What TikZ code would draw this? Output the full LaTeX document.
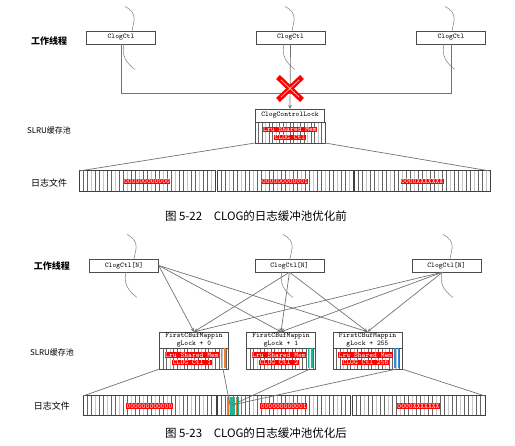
\documentclass[tikz,border=0pt]{standalone}
\usepackage{fontspec}
\newfontfamily\cjk{Noto Sans CJK SC}
\usetikzlibrary{calc}
\tikzset{>=stealth}
\tikzset{
  ctl/.style={draw=black!70,fill=white,minimum width=69pt,minimum height=13pt,
    inner sep=0pt,font=\ttfamily\fontsize{7.2}{8}\selectfont},
  redlbl/.style={fill=red,text=white,inner sep=.4pt,font=\ttfamily\fontsize{7.2}{8}\selectfont},
  rowlbl/.style={font=\cjk\fontsize{9}{10}\selectfont},
  wire/.style={draw=black!55,line width=.7pt},
}
% vertical stripes: x1 y1 x2 y2 gap
\newcommand\stripes[5]{%
  \pgfmathtruncatemacro\nst{((#3)-(#1))/(#5)-.5}
  \foreach \i in {1,...,\nst}{
    \pgfmathtruncatemacro\m{mod(\i,3)}
    \ifnum\m=0 \def\stripecol{black!22}\else\def\stripecol{black!60}\fi
    \draw[\stripecol,line width=.5pt] ({(#1)+(#5)*\i},#2) -- ({(#1)+(#5)*\i},#4);
  }}
% one file segment: name x1 x2 y1 y2 text
\newcommand\seg[6]{%
  \stripes{#2}{#4}{#3}{#5}{4}
  \draw[black!75,line width=1pt] (#2,#4) rectangle (#3,#5);
  \node[redlbl] (#1) at ({((#2)+(#3))/2},{((#4)+(#5))/2}) {#6};}
% thread squiggle through a box: node dx
\newcommand\thread[2]{%
  \draw[black!45,line width=.6pt] ($(#1.center)+(#2,-31)$) .. controls +(14,7) and +(1,-8) .. ($(#1.center)+(#2+7,-6.5)$);
  \draw[black!45,line width=.6pt] ($(#1.center)+(#2-1,6.5)$) .. controls +(-3,12) and +(-8,-6) .. ($(#1.center)+(#2+10,32)$);}
% buffer of the second picture: name x lock ctl colour
\newcommand\bufbox[5]{%
  \node[ctl,minimum height=16pt,align=center] (#1) at (#2,340) {FirstCBufMappin\\gLock + #3};
  \stripes{#2-34.5}{348}{#2+34.5}{369}{3.5}
  \draw[black!70] (#2-34.5,348) rectangle (#2+34.5,369);
  \coordinate (#1-sw) at (#2-34.5,369);
  \coordinate (#1-se) at (#2+34.5,369);
  \node[redlbl] (#1-m) at (#2-2,355) {Lru Shared Mem};
  \node[redlbl] (#1-c) at (#2-2,362.5) {CLOG Ctl #4};
  \draw[#5,line width=1.6pt] (#2+27.5,348.5) -- (#2+27.5,368.5);
  \draw[#5,line width=1.6pt] (#2+31,348.5) -- (#2+31,368.5);
  \coordinate (#1-hot) at (#2+29,369);}

\definecolor{hotA}{HTML}{F07E2A}
\definecolor{hotB}{HTML}{1FB39A}
\definecolor{hotC}{HTML}{2F8FD8}

\begin{document}
\begin{tikzpicture}[x=1pt,y=-1pt]
\useasboundingbox (0,0) rectangle (515,446);
%% before
\node[rowlbl] (w1) at (49,41) {\bfseries 工作线程};
\node[rowlbl,font=\cjk\fontsize{8}{9}\selectfont] (s1) at (49,130) {SLRU缓存池};
\node[rowlbl] (r1) at (49,183) {日志文件};
\node[ctl] (c1) at (121,37.5) {ClogCtl};
\node[ctl] (c2) at (290.5,37.5) {ClogCtl};
\node[ctl] (c3) at (451,37.5) {ClogCtl};
\thread{c1}{4}
\thread{c2}{-5.5}
\thread{c3}{-6}
\coordinate (bus) at (0,93);
\draw[wire] (c1.south) |- (bus -| c3.south) -- (c3.south);
\node[ctl] (lock) at (290,115.5) {ClogControlLock};
\draw[wire,->] (c2.south) -- (lock.north);
\draw[red,line width=5.5pt] (278,77) -- (302,100) (302,77) -- (278,100);
\draw[red!35!white,line width=.8pt] (281,80) -- (299,97) (299,80) -- (281,97);
\stripes{255}{122}{325}{143}{3.5}
\draw[black!70] (255,122) rectangle (325,143);
\node[redlbl] (lm) at (290,129.5) {Lru Shared Mem};
\node[redlbl] (lc) at (290,137.5) {CLOG Ctl};
\coordinate (lk-sw) at (255,143);
\coordinate (lk-se) at (325,143);
\seg{fa1}{79}{215}{171}{192}{000000000000}
\seg{fa2}{217}{353}{171}{192}{000000000001}
\seg{fa3}{354.5}{490}{171}{192}{0000XXXXXXX}
\coordinate (fa-nw) at (79,171);
\coordinate (fa-ne) at (490,171);
\draw[wire] (lk-sw) -- (fa-nw);
\draw[wire] (lk-se) -- (fa-ne);
\node[font=\cjk\fontsize{11.5}{12}\selectfont] (cap1) at (256,216) {图 5-22\quad CLOG的日志缓冲池优化前};
%% after
\node[rowlbl] (w2) at (52,266) {\bfseries 工作线程};
\node[rowlbl,font=\cjk\fontsize{8}{9}\selectfont] (s2) at (52,352) {SLRU缓存池};
\node[rowlbl] (r2) at (52,406) {日志文件};
\node[ctl] (t1) at (124,265.5) {ClogCtl[N]};
\node[ctl] (t2) at (289.5,265.5) {ClogCtl[N]};
\node[ctl] (t3) at (446.5,265.5) {ClogCtl[N]};
\thread{t1}{3}
\thread{t2}{-6.5}
\thread{t3}{-3.5}
\bufbox{bA}{194}{0}{1}{hotA}
\bufbox{bB}{281}{1}{2}{hotB}
\bufbox{bC}{367.5}{255}{256}{hotC}
\foreach \b in {bA,bB,bC}{
  \draw[wire,->] (t1.east) -- (\b.north);
  \draw[wire,->] (t2.south) -- (\b.north);
  \draw[wire,->] ([xshift=-4pt]t3.south) -- (\b.north);
}
\seg{fb1}{83}{216}{396}{416}{000000000000}
\seg{fb2}{217.5}{350}{396}{416}{000000000001}
\seg{fb3}{352}{485}{396}{416}{0000XXXXXXX}
\fill[hotB] (229.5,397) rectangle (235,415);
\foreach \x/\c in {228/hotA,236.5/hotA,238.5/hotB,241.5/hotC}
  \draw[\c,line width=1.6pt] (\x,397) -- (\x,415);
\coordinate (fb-nw) at (83,396);
\coordinate (fb-ne) at (485,396);
\coordinate (hitA) at (230,405);
\coordinate (hit) at (232,405);
\draw[wire] (bA-sw) -- (fb-nw);
\draw[wire] (bC-se) -- (fb-ne);
\draw[wire] (bA-hot) -- (hitA);
\draw[wire] (bB-hot) -- (hit);
\draw[wire] (bC-hot) -- (hit);
\node[font=\cjk\fontsize{11.5}{12}\selectfont] (cap2) at (256,433) {图 5-23\quad CLOG的日志缓冲池优化后};
\end{tikzpicture}
\end{document}
